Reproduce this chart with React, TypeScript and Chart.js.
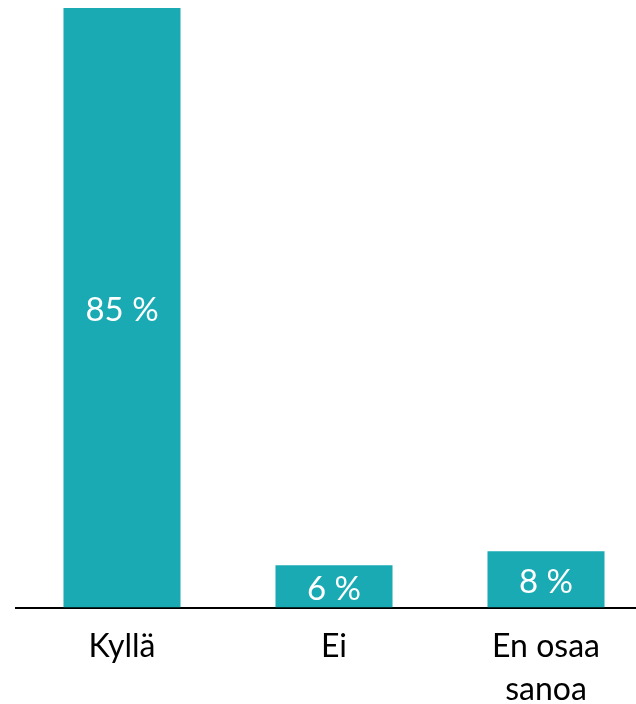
import React, { useEffect, useRef } from "react";
import { Chart, registerables } from "chart.js";

Chart.register(...registerables);

const categories: (string | string[])[] = ["Kyllä", "Ei", ["En osaa", "sanoa"]];
const values: number[] = [85, 6, 8];
const valueLabels: string[] = ["85 %", "6 %", "8 %"];

const FONT = "Lato";
const BAR_COLOR = "#1AAAB3";

const barLabelPlugin = {
  id: "barLabels",
  afterDatasetsDraw(chart: any) {
    const ctx = chart.ctx;
    const meta = chart.getDatasetMeta(0);
    ctx.save();
    ctx.fillStyle = "#ffffff";
    ctx.font = `33px ${FONT}`;
    ctx.textAlign = "center";
    ctx.textBaseline = "middle";
    meta.data.forEach((bar: any, i: number) => {
      const y = (bar.y + bar.base) / 2 + 3;
      ctx.fillText(valueLabels[i], bar.x, y);
    });
    ctx.restore();
  },
};

export default function App() {
  const ref = useRef<HTMLCanvasElement | null>(null);
  useEffect(() => {
    if (!ref.current) return;
    const chart = new Chart(ref.current, {
      type: "bar",
      data: {
        labels: categories,
        datasets: [
          {
            data: values,
            backgroundColor: BAR_COLOR,
            barPercentage: 0.552,
            categoryPercentage: 1,
          },
        ],
      },
      options: {
        responsive: false,
        maintainAspectRatio: false,
        animation: false,
        layout: { padding: { left: 16, right: 8, top: 8, bottom: 0 } },
        plugins: { legend: { display: false }, tooltip: { enabled: false } },
        scales: {
          y: { display: false, min: 0, max: 85 },
          x: {
            grid: { display: false, drawTicks: false },
            border: { display: true, color: "#000000", width: 2 },
            ticks: {
              color: "#000000",
              font: { family: FONT, size: 32, lineHeight: 1.35 },
              padding: 17,
              maxRotation: 0,
              autoSkip: false,
            },
          },
        },
      },
      plugins: [barLabelPlugin],
    });
    return () => chart.destroy();
  }, []);
  return (
    <div
      style={{
        position: "fixed",
        left: 0,
        top: 0,
        width: 636,
        height: 704,
        overflow: "hidden",
        background: "#fff",
      }}
    >
      <canvas ref={ref} width={660} height={728} style={{ display: "block" }} />
    </div>
  );
}
